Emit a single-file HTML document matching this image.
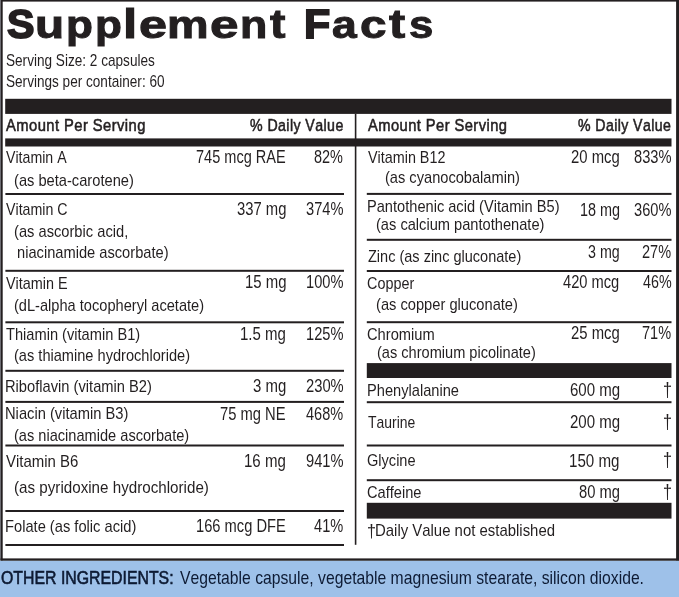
<!DOCTYPE html>
<html><head><meta charset="utf-8"><title>Supplement Facts</title>
<style>
html,body{margin:0;padding:0;background:#fff;}
body{will-change:transform;width:679px;height:597px;position:relative;overflow:hidden;font-family:"Liberation Sans",sans-serif;color:#231f20;}
.t{font-kerning:none;position:absolute;white-space:nowrap;line-height:1;display:block;}
.r{position:absolute;background:#231f20;}
svg{position:absolute;left:0;top:0;}
</style></head><body>
<svg width="679" height="597" viewBox="0 0 679 597" fill="#231f20" shape-rendering="geometricPrecision">
<rect x="0.00" y="560.60" width="679.00" height="36.40" fill="#9ec1e9"/>
<rect x="0.00" y="0.00" width="679.00" height="1.60"/>
<rect x="0.00" y="0.00" width="1.00" height="560.40" fill="#6e6e74"/>
<rect x="1.00" y="0.00" width="1.70" height="560.40"/>
<rect x="676.10" y="0.00" width="2.90" height="560.40"/>
<rect x="0.50" y="558.40" width="678.50" height="2.30"/>
<rect x="5.20" y="98.80" width="666.30" height="15.10"/>
<rect x="5.20" y="138.40" width="666.30" height="8.10"/>
<rect x="366.80" y="363.10" width="304.70" height="14.90"/>
<rect x="366.80" y="502.80" width="304.70" height="15.80"/>
<rect x="354.80" y="113.90" width="1.60" height="430.90"/>
<rect x="5.40" y="193.00" width="338.60" height="2.0"/>
<rect x="5.40" y="269.80" width="338.60" height="2.0"/>
<rect x="5.40" y="321.30" width="338.60" height="2.0"/>
<rect x="5.40" y="369.80" width="338.60" height="2.0"/>
<rect x="5.40" y="400.90" width="338.60" height="2.0"/>
<rect x="5.40" y="444.50" width="338.60" height="2.0"/>
<rect x="5.40" y="510.00" width="338.60" height="2.0"/>
<rect x="5.40" y="544.00" width="338.60" height="2.0"/>
<rect x="366.80" y="192.90" width="304.70" height="2.0"/>
<rect x="366.80" y="238.80" width="304.70" height="2.0"/>
<rect x="366.80" y="270.00" width="304.70" height="2.0"/>
<rect x="366.80" y="321.20" width="304.70" height="2.0"/>
<rect x="366.80" y="401.20" width="304.70" height="2.0"/>
<rect x="366.80" y="444.50" width="304.70" height="2.0"/>
<rect x="366.80" y="479.20" width="304.70" height="2.0"/>
</svg>
<span class="t" style="top:3.47px;font-size:41.5px;transform:scaleX(0.9934);left:6.81px;transform-origin:0 0;font-weight:bold;-webkit-text-stroke:1.8px;">S</span>
<span class="t" style="top:5.16px;font-size:39.5px;transform:scaleX(1.2058);left:35.45px;transform-origin:0 0;font-weight:bold;-webkit-text-stroke:1.0px;">u</span>
<span class="t" style="top:5.16px;font-size:39.5px;transform:scaleX(1.1153);left:66.40px;transform-origin:0 0;font-weight:bold;-webkit-text-stroke:1.0px;">p</span>
<span class="t" style="top:5.16px;font-size:39.5px;transform:scaleX(1.1153);left:95.10px;transform-origin:0 0;font-weight:bold;-webkit-text-stroke:1.0px;">p</span>
<span class="t" style="top:4.32px;font-size:40.5px;transform:scaleX(1.2597);left:123.14px;transform-origin:0 0;font-weight:bold;-webkit-text-stroke:1.0px;">l</span>
<span class="t" style="top:5.16px;font-size:39.5px;transform:scaleX(1.2739);left:138.53px;transform-origin:0 0;font-weight:bold;-webkit-text-stroke:1.0px;">e</span>
<span class="t" style="top:5.16px;font-size:39.5px;transform:scaleX(1.1840);left:167.42px;transform-origin:0 0;font-weight:bold;-webkit-text-stroke:1.0px;">m</span>
<span class="t" style="top:5.16px;font-size:39.5px;transform:scaleX(1.2949);left:210.30px;transform-origin:0 0;font-weight:bold;-webkit-text-stroke:1.0px;">e</span>
<span class="t" style="top:5.16px;font-size:39.5px;transform:scaleX(1.1324);left:239.75px;transform-origin:0 0;font-weight:bold;-webkit-text-stroke:1.0px;">n</span>
<span class="t" style="top:4.32px;font-size:40.5px;transform:scaleX(1.1442);left:269.93px;transform-origin:0 0;font-weight:bold;-webkit-text-stroke:1.0px;">t</span>
<span class="t" style="top:3.47px;font-size:41.5px;transform:scaleX(1.0354);left:303.93px;transform-origin:0 0;font-weight:bold;-webkit-text-stroke:1.8px;">F</span>
<span class="t" style="top:5.16px;font-size:39.5px;transform:scaleX(1.1253);left:331.90px;transform-origin:0 0;font-weight:bold;-webkit-text-stroke:1.0px;">a</span>
<span class="t" style="top:5.16px;font-size:39.5px;transform:scaleX(1.2041);left:359.94px;transform-origin:0 0;font-weight:bold;-webkit-text-stroke:1.0px;">c</span>
<span class="t" style="top:4.32px;font-size:40.5px;transform:scaleX(1.2002);left:389.21px;transform-origin:0 0;font-weight:bold;-webkit-text-stroke:1.0px;">t</span>
<span class="t" style="top:5.16px;font-size:39.5px;transform:scaleX(1.1076);left:408.76px;transform-origin:0 0;font-weight:bold;-webkit-text-stroke:1.0px;">s</span>
<span class="t" style="top:52.41px;font-size:17.0px;transform:scaleX(0.7994);left:5.58px;transform-origin:0 0;">Serving Size: 2 capsules</span>
<span class="t" style="top:72.91px;font-size:17.0px;transform:scaleX(0.7989);left:5.58px;transform-origin:0 0;">Servings per container: 60</span>
<span class="t" style="top:116.61px;font-size:17.0px;transform:scaleX(0.8680);left:6.15px;transform-origin:0 0;-webkit-text-stroke:0.55px;letter-spacing:0.5px;">Amount Per Serving</span>
<span class="t" style="top:116.61px;font-size:17.0px;transform:scaleX(0.8342);left:250.07px;transform-origin:0 0;-webkit-text-stroke:0.55px;letter-spacing:0.5px;">% Daily Value</span>
<span class="t" style="top:149.01px;font-size:17.0px;transform:scaleX(0.8329);left:5.94px;transform-origin:0 0;">Vitamin A</span>
<span class="t" style="top:171.61px;font-size:17.0px;transform:scaleX(0.8626);left:14.29px;transform-origin:0 0;">(as beta-carotene)</span>
<span class="t" style="top:148.79px;font-size:17.5px;transform:scaleX(0.8305);left:196.25px;transform-origin:0 0;">745 mcg RAE</span>
<span class="t" style="top:148.79px;font-size:17.5px;transform:scaleX(0.8264);left:314.37px;transform-origin:0 0;">82%</span>
<span class="t" style="top:201.21px;font-size:17.0px;transform:scaleX(0.8360);left:5.94px;transform-origin:0 0;">Vitamin C</span>
<span class="t" style="top:222.71px;font-size:17.0px;transform:scaleX(0.8636);left:14.29px;transform-origin:0 0;">(as ascorbic acid,</span>
<span class="t" style="top:244.01px;font-size:17.0px;transform:scaleX(0.8624);left:16.73px;transform-origin:0 0;">niacinamide ascorbate)</span>
<span class="t" style="top:200.99px;font-size:17.5px;transform:scaleX(0.8466);left:236.84px;transform-origin:0 0;">337 mg</span>
<span class="t" style="top:200.99px;font-size:17.5px;transform:scaleX(0.8374);left:305.84px;transform-origin:0 0;">374%</span>
<span class="t" style="top:274.51px;font-size:17.0px;transform:scaleX(0.8479);left:5.94px;transform-origin:0 0;">Vitamin E</span>
<span class="t" style="top:297.21px;font-size:17.0px;transform:scaleX(0.8597);left:14.29px;transform-origin:0 0;">(dL-alpha tocopheryl acetate)</span>
<span class="t" style="top:274.49px;font-size:17.5px;transform:scaleX(0.8532);left:244.76px;transform-origin:0 0;">15 mg</span>
<span class="t" style="top:274.49px;font-size:17.5px;transform:scaleX(0.8364);left:305.89px;transform-origin:0 0;">100%</span>
<span class="t" style="top:325.71px;font-size:17.0px;transform:scaleX(0.8606);left:5.67px;transform-origin:0 0;">Thiamin (vitamin B1)</span>
<span class="t" style="top:347.41px;font-size:17.0px;transform:scaleX(0.8584);left:14.30px;transform-origin:0 0;">(as thiamine hydrochloride)</span>
<span class="t" style="top:325.69px;font-size:17.5px;transform:scaleX(0.8582);left:240.36px;transform-origin:0 0;">1.5 mg</span>
<span class="t" style="top:325.69px;font-size:17.5px;transform:scaleX(0.8364);left:305.89px;transform-origin:0 0;">125%</span>
<span class="t" style="top:378.21px;font-size:17.0px;transform:scaleX(0.8639);left:4.80px;transform-origin:0 0;">Riboflavin (vitamin B2)</span>
<span class="t" style="top:378.29px;font-size:17.5px;transform:scaleX(0.8542);left:253.03px;transform-origin:0 0;">3 mg</span>
<span class="t" style="top:378.29px;font-size:17.5px;transform:scaleX(0.8415);left:305.66px;transform-origin:0 0;">230%</span>
<span class="t" style="top:405.21px;font-size:17.0px;transform:scaleX(0.8652);left:4.79px;transform-origin:0 0;">Niacin (vitamin B3)</span>
<span class="t" style="top:427.21px;font-size:17.0px;transform:scaleX(0.8585);left:14.30px;transform-origin:0 0;">(as niacinamide ascorbate)</span>
<span class="t" style="top:405.89px;font-size:17.5px;transform:scaleX(0.8430);left:220.34px;transform-origin:0 0;">75 mg NE</span>
<span class="t" style="top:405.89px;font-size:17.5px;transform:scaleX(0.8300);left:306.17px;transform-origin:0 0;">468%</span>
<span class="t" style="top:452.71px;font-size:17.0px;transform:scaleX(0.8810);left:5.93px;transform-origin:0 0;">Vitamin B6</span>
<span class="t" style="top:479.31px;font-size:17.0px;transform:scaleX(0.8929);left:14.26px;transform-origin:0 0;">(as pyridoxine hydrochloride)</span>
<span class="t" style="top:452.79px;font-size:17.5px;transform:scaleX(0.8597);left:244.45px;transform-origin:0 0;">16 mg</span>
<span class="t" style="top:452.79px;font-size:17.5px;transform:scaleX(0.8381);left:305.81px;transform-origin:0 0;">941%</span>
<span class="t" style="top:518.41px;font-size:17.0px;transform:scaleX(0.8633);left:4.80px;transform-origin:0 0;">Folate (as folic acid)</span>
<span class="t" style="top:517.79px;font-size:17.5px;transform:scaleX(0.8389);left:196.18px;transform-origin:0 0;">166 mcg DFE</span>
<span class="t" style="top:517.79px;font-size:17.5px;transform:scaleX(0.8353);left:314.06px;transform-origin:0 0;">41%</span>
<span class="t" style="top:116.61px;font-size:17.0px;transform:scaleX(0.8649);left:368.45px;transform-origin:0 0;-webkit-text-stroke:0.55px;letter-spacing:0.5px;">Amount Per Serving</span>
<span class="t" style="top:116.61px;font-size:17.0px;transform:scaleX(0.8306);left:578.47px;transform-origin:0 0;-webkit-text-stroke:0.55px;letter-spacing:0.5px;">% Daily Value</span>
<span class="t" style="top:149.01px;font-size:17.0px;transform:scaleX(0.8443);left:368.14px;transform-origin:0 0;">Vitamin B12</span>
<span class="t" style="top:169.21px;font-size:17.0px;transform:scaleX(0.8601);left:384.79px;transform-origin:0 0;">(as cyanocobalamin)</span>
<span class="t" style="top:148.79px;font-size:17.5px;transform:scaleX(0.8487);left:571.05px;transform-origin:0 0;">20 mcg</span>
<span class="t" style="top:148.79px;font-size:17.5px;transform:scaleX(0.8369);left:634.06px;transform-origin:0 0;">833%</span>
<span class="t" style="top:198.21px;font-size:17.0px;transform:scaleX(0.8596);left:367.00px;transform-origin:0 0;">Pantothenic acid (Vitamin B5)</span>
<span class="t" style="top:215.61px;font-size:17.0px;transform:scaleX(0.8610);left:376.49px;transform-origin:0 0;">(as calcium pantothenate)</span>
<span class="t" style="top:201.89px;font-size:17.5px;transform:scaleX(0.8229);left:579.70px;transform-origin:0 0;">18 mg</span>
<span class="t" style="top:201.89px;font-size:17.5px;transform:scaleX(0.8351);left:634.14px;transform-origin:0 0;">360%</span>
<span class="t" style="top:247.51px;font-size:17.0px;transform:scaleX(0.8537);left:367.74px;transform-origin:0 0;">Zinc (as zinc gluconate)</span>
<span class="t" style="top:243.79px;font-size:17.5px;transform:scaleX(0.8138);left:588.06px;transform-origin:0 0;">3 mg</span>
<span class="t" style="top:243.79px;font-size:17.5px;transform:scaleX(0.8293);left:642.47px;transform-origin:0 0;">27%</span>
<span class="t" style="top:274.91px;font-size:17.0px;transform:scaleX(0.8460);left:367.47px;transform-origin:0 0;">Copper</span>
<span class="t" style="top:296.01px;font-size:17.0px;transform:scaleX(0.8631);left:376.49px;transform-origin:0 0;">(as copper gluconate)</span>
<span class="t" style="top:273.99px;font-size:17.5px;transform:scaleX(0.8385);left:563.46px;transform-origin:0 0;">420 mcg</span>
<span class="t" style="top:273.99px;font-size:17.5px;transform:scaleX(0.8176);left:642.87px;transform-origin:0 0;">46%</span>
<span class="t" style="top:325.61px;font-size:17.0px;transform:scaleX(0.8637);left:367.45px;transform-origin:0 0;">Chromium</span>
<span class="t" style="top:343.51px;font-size:17.0px;transform:scaleX(0.8576);left:376.50px;transform-origin:0 0;">(as chromium picolinate)</span>
<span class="t" style="top:325.49px;font-size:17.5px;transform:scaleX(0.8487);left:571.05px;transform-origin:0 0;">25 mcg</span>
<span class="t" style="top:325.49px;font-size:17.5px;transform:scaleX(0.8297);left:642.46px;transform-origin:0 0;">71%</span>
<span class="t" style="top:381.61px;font-size:17.0px;transform:scaleX(0.8609);left:367.00px;transform-origin:0 0;">Phenylalanine</span>
<span class="t" style="top:381.89px;font-size:17.5px;transform:scaleX(0.8589);left:569.64px;transform-origin:0 0;">600 mg</span>
<span class="t" style="top:380.63px;left:663.11px;font-size:17.0px;transform:scale(0.9481,1.1438);transform-origin:0 0;">†</span>
<span class="t" style="top:413.71px;font-size:17.0px;transform:scaleX(0.8194);left:367.89px;transform-origin:0 0;">Taurine</span>
<span class="t" style="top:413.99px;font-size:17.5px;transform:scaleX(0.8587);left:569.64px;transform-origin:0 0;">200 mg</span>
<span class="t" style="top:412.73px;left:663.11px;font-size:17.0px;transform:scale(0.9481,1.1438);transform-origin:0 0;">†</span>
<span class="t" style="top:452.21px;font-size:17.0px;transform:scaleX(0.8570);left:367.47px;transform-origin:0 0;">Glycine</span>
<span class="t" style="top:452.59px;font-size:17.5px;transform:scaleX(0.8657);left:569.25px;transform-origin:0 0;">150 mg</span>
<span class="t" style="top:451.33px;left:663.11px;font-size:17.0px;transform:scale(0.9481,1.1438);transform-origin:0 0;">†</span>
<span class="t" style="top:483.81px;font-size:17.0px;transform:scaleX(0.8606);left:367.46px;transform-origin:0 0;">Caffeine</span>
<span class="t" style="top:484.09px;font-size:17.5px;transform:scaleX(0.8428);left:578.76px;transform-origin:0 0;">80 mg</span>
<span class="t" style="top:482.83px;left:663.11px;font-size:17.0px;transform:scale(0.9481,1.1438);transform-origin:0 0;">†</span>
<span class="t" style="top:520.69px;left:367.11px;font-size:17.0px;transform:scale(0.9481,1.1141);transform-origin:0 0;">†</span>
<span class="t" style="top:521.91px;font-size:17.0px;transform:scaleX(0.8777);left:375.28px;transform-origin:0 0;">Daily Value not established</span>
<span class="t" style="top:567.52px;font-size:19.0px;transform:scaleX(0.8342);left:0.95px;transform-origin:0 0;color:#0d1a33;-webkit-text-stroke:0.6px;">OTHER INGREDIENTS:</span>
<span class="t" style="top:567.52px;font-size:19.0px;transform:scaleX(0.8273);left:179.93px;transform-origin:0 0;color:#0d1a33;">Vegetable capsule, vegetable magnesium stearate, silicon dioxide.</span>
</body></html>
